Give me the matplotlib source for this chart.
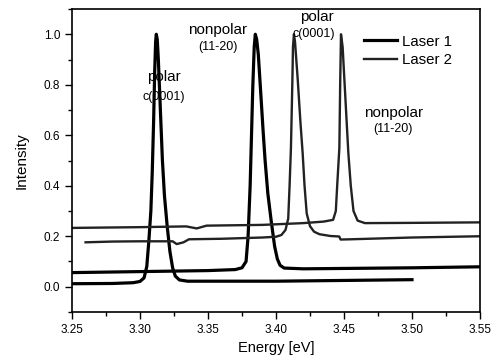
import matplotlib
matplotlib.use("Agg")
import matplotlib.pyplot as plt
from matplotlib.ticker import MultipleLocator

plt.rcParams['font.family'] = ['Liberation Sans', 'DejaVu Sans']

# Laser 1, polar c(0001) peak
l1a_x = [3.250, 3.280, 3.295, 3.300, 3.303, 3.305, 3.3065, 3.308, 3.309, 3.310,
         3.3108, 3.3115, 3.312, 3.3127, 3.3135, 3.315, 3.3165, 3.318, 3.320,
         3.322, 3.324, 3.326, 3.329, 3.335, 3.400, 3.450, 3.500]
l1a_y = [0.012, 0.013, 0.016, 0.021, 0.035, 0.08, 0.18, 0.30, 0.45, 0.65,
         0.85, 0.97, 1.00, 0.98, 0.90, 0.70, 0.50, 0.36, 0.24,
         0.14, 0.075, 0.042, 0.027, 0.022, 0.022, 0.025, 0.028]

# Laser 1, nonpolar (11-20) peak
l1b_x = [3.250, 3.300, 3.350, 3.370, 3.375, 3.378, 3.3795, 3.381, 3.382, 3.383,
         3.384, 3.3848, 3.3858, 3.387, 3.389, 3.3905, 3.392, 3.394, 3.3965,
         3.399, 3.401, 3.403, 3.406, 3.420, 3.500, 3.550]
l1b_y = [0.056, 0.060, 0.064, 0.068, 0.075, 0.10, 0.20, 0.40, 0.60, 0.80,
         0.95, 1.00, 0.98, 0.92, 0.75, 0.62, 0.50, 0.37, 0.26,
         0.16, 0.11, 0.085, 0.074, 0.071, 0.075, 0.079]

# Laser 2, polar c(0001) peak
l2a_x = [3.260, 3.280, 3.300, 3.324, 3.327, 3.332, 3.336, 3.360, 3.390, 3.400,
         3.404, 3.407, 3.409, 3.410, 3.411, 3.412, 3.4125, 3.4132, 3.414, 3.416,
         3.418, 3.4196, 3.421, 3.4226, 3.425, 3.428, 3.432, 3.440, 3.4465,
         3.4475, 3.455, 3.500, 3.550]
l2a_y = [0.176, 0.179, 0.180, 0.180, 0.169, 0.176, 0.188, 0.190, 0.195, 0.198,
         0.205, 0.225, 0.27, 0.40, 0.55, 0.80, 0.95, 1.00, 0.97, 0.82,
         0.65, 0.53, 0.40, 0.29, 0.24, 0.218, 0.208, 0.201, 0.199,
         0.187, 0.188, 0.195, 0.200]

# Laser 2, nonpolar (11-20) peak
l2b_x = [3.250, 3.300, 3.334, 3.3417, 3.349, 3.390, 3.420, 3.435, 3.442, 3.444,
         3.445, 3.4466, 3.4472, 3.4478, 3.449, 3.451, 3.4532, 3.455, 3.457,
         3.460, 3.4654, 3.500, 3.550]
l2b_y = [0.233, 0.236, 0.239, 0.231, 0.242, 0.245, 0.252, 0.258, 0.265, 0.30,
         0.40, 0.55, 0.80, 1.00, 0.95, 0.75, 0.53, 0.40, 0.30,
         0.262, 0.252, 0.253, 0.255]

labels = [("polar", 3.3176, 0.829, 11), ("c(0001)", 3.3176, 0.750, 9),
          ("nonpolar", 3.3574, 1.016, 11), ("(11-20)", 3.3570, 0.950, 9),
          ("polar", 3.4301, 1.067, 11), ("c(0001)", 3.4279, 1.000, 9),
          ("nonpolar", 3.4868, 0.690, 11), ("(11-20)", 3.4860, 0.623, 9)]

fig = plt.figure(figsize=(4.93, 3.63), dpi=100)
ax = fig.add_axes([0.146, 0.1405, 0.8276, 0.8347])

k1 = '#000000'
k2 = '#222222'
ax.plot(l1a_x, l1a_y, color=k1, lw=2.3, label='Laser 1')
ax.plot(l1b_x, l1b_y, color=k1, lw=2.3)
ax.plot(l2a_x, l2a_y, color=k2, lw=1.7, label='Laser 2')
ax.plot(l2b_x, l2b_y, color=k2, lw=1.7)

for txt, x, y, fs in labels:
    ax.text(x, y, txt, ha='center', va='center', fontsize=fs)

ax.set_xlim(3.25, 3.55)
ax.set_ylim(-0.1, 1.1)
ax.xaxis.set_major_locator(MultipleLocator(0.05))
ax.xaxis.set_minor_locator(MultipleLocator(0.025))
ax.set_yticks([0.0, 0.2, 0.4, 0.6, 0.8, 1.0])
ax.yaxis.set_minor_locator(MultipleLocator(0.1))
ax.tick_params(which='major', length=5, width=1, labelsize=8.5, direction='out')
ax.tick_params(which='minor', length=3, width=1, direction='out')
for s in ax.spines.values():
    s.set_linewidth(1.2)

ax.set_xlabel('Energy [eV]', fontsize=10.5, labelpad=4)
ax.set_ylabel('Intensity', fontsize=11, labelpad=11)

ax.legend(loc='upper left', bbox_to_anchor=(0.683, 0.96), frameon=False,
          fontsize=10.8, handlelength=2.2, handletextpad=0.35, labelspacing=0.3)

fig.savefig('out.png', dpi=100)
